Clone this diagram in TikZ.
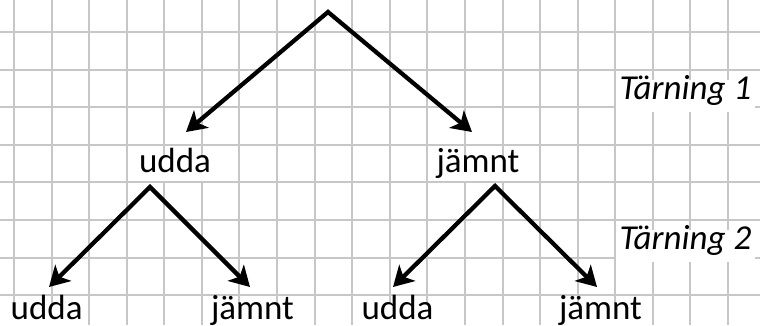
\documentclass[tikz,border=0pt]{standalone}
\usepackage{fontspec}
\setmainfont{Carlito}
\usetikzlibrary{arrows.meta}
\begin{document}
\begin{tikzpicture}[x=0.75pt,y=-0.75pt,
  gridline/.style={draw=black!22, line width=1.5pt},
  lbl/.style={fill=white, anchor=base, inner xsep=2pt, inner ysep=4pt,
    text height=0.75em, text depth=0.25em, font=\fontsize{26.25}{30}\selectfont},
  ttl/.style={lbl, inner xsep=3pt, inner ysep=7pt, font=\fontsize{26.25}{30}\selectfont\itshape},
  branch/.style={line width=3.2pt, line join=miter,
    {Stealth[length=15pt,width=17pt,inset=4pt]}-{Stealth[length=15pt,width=17pt,inset=4pt]}}]
\useasboundingbox (0,0) rectangle (760,325);
\fill[white] (0,0) rectangle (760,325);
% grid
\foreach \i in {0,...,19} \draw[gridline] ({14+37.58*\i},0) -- ({14+37.58*\i},325);
\foreach \j in {0,...,7} \draw[gridline] (0,{32+37.6*\j}) -- (760,{32+37.6*\j});
% labels
\node[lbl] (u1) at (175,172.3) {udda};
\node[lbl] (j1) at (478,172.3) {jämnt};
\node[lbl] (u2) at (46.7,319.5) {udda};
\node[lbl] (j2) at (252.5,319.5) {jämnt};
\node[lbl] (u3) at (397.5,319.5) {udda};
\node[lbl] (j3) at (600.5,319.5) {jämnt};
\node[ttl] (t1) at (685.5,99.3) {Tärning 1};
\node[ttl] (t2) at (685.5,249) {Tärning 2};
% branch points
\coordinate (top) at (328,12);
\coordinate (u1in) at (186,132);
\coordinate (j1in) at (472,132);
\coordinate (u1out) at (150,187);
\coordinate (j1out) at (495,186);
\coordinate (u2in) at (49,287);
\coordinate (j2in) at (250,287);
\coordinate (u3in) at (393,287);
\coordinate (j3in) at (597,287);
\draw[branch] (u1in) -- (top) -- (j1in);
\draw[branch] (u2in) -- (u1out) -- (j2in);
\draw[branch] (u3in) -- (j1out) -- (j3in);
\end{tikzpicture}
\end{document}
